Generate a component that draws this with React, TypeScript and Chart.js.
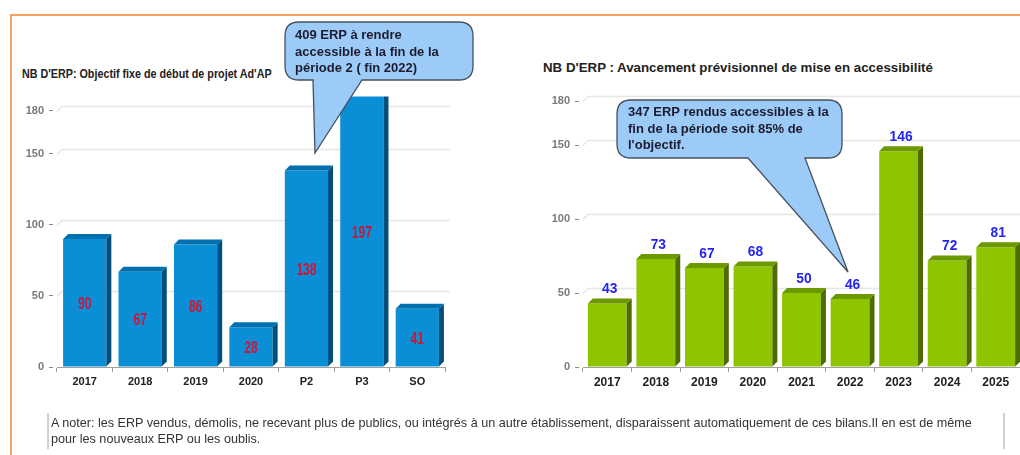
import React, { useEffect, useRef } from 'react';
import { Chart, registerables } from 'chart.js';

Chart.register(...registerables);

// ---------- data ----------
const leftCategories = ['2017', '2018', '2019', '2020', 'P2', 'P3', 'SO'];
const leftValues = [90, 67, 86, 28, 138, 197, 41];
const leftTicks = [0, 50, 100, 150, 180];

const rightCategories = ['2017', '2018', '2019', '2020', '2021', '2022', '2023', '2024', '2025'];
const rightValues = [43, 73, 67, 68, 50, 46, 146, 72, 81];
const rightTicks = [0, 50, 100, 150, 180];

const leftTitle = "NB D'ERP: Objectif fixe de début de projet Ad'AP";
const rightTitle = "NB D'ERP : Avancement prévisionnel de mise en accessibilité";
const bubble1Lines = ['409 ERP à rendre', 'accessible à la fin de la', 'période 2 ( fin 2022)'];
const bubble2Lines = ['347 ERP rendus accessibles à la', 'fin de la période soit 85% de', "l'objectif."];
const noteLines = [
  "A noter: les ERP vendus, démolis, ne recevant plus de publics, ou intégrés à un autre établissement, disparaissent automatiquement de ces bilans.Il en est de même",
  'pour les nouveaux ERP ou les oublis.',
];

const FONT = '"Liberation Sans", Arial, sans-serif';

type Cfg = {
  depth: number;
  front: string;
  top: string;
  side: string;
  grid: string;
  labelMode: 'inside' | 'above';
  labelColor: string;
  labelFont: string;
  labelScaleX: number;
  values: number[];
};

function make3DPlugin(cfg: Cfg) {
  const d = cfg.depth;
  return {
    id: 'bar3d',
    beforeDatasetsDraw(chart: any) {
      const { ctx, chartArea: ca } = chart;
      const y = chart.scales.y;
      ctx.save();
      ctx.strokeStyle = cfg.grid;
      ctx.lineWidth = 1.5;
      y.ticks.forEach((t: any) => {
        if (t.value === 0) return;
        const py = Math.round(y.getPixelForValue(t.value)) + 0.5;
        ctx.beginPath();
        ctx.moveTo(ca.left, py);
        ctx.lineTo(ca.left + d, py - d);
        ctx.lineTo(ca.right + d, py - d);
        ctx.stroke();
      });
      ctx.restore();
    },
    afterDatasetsDraw(chart: any) {
      const { ctx, chartArea: ca } = chart;
      const meta = chart.getDatasetMeta(0);
      ctx.save();
      ctx.beginPath();
      ctx.rect(ca.left, ca.top, ca.right - ca.left + d + 2, ca.bottom - ca.top);
      ctx.clip();
      meta.data.forEach((bar: any) => {
        const { x, y, base, width } = bar.getProps(['x', 'y', 'base', 'width'], true);
        const x0 = x - width / 2;
        const x1 = x + width / 2;
        ctx.fillStyle = cfg.side;
        ctx.beginPath();
        ctx.moveTo(x1, y);
        ctx.lineTo(x1 + d, y - d);
        ctx.lineTo(x1 + d, base - d);
        ctx.lineTo(x1, base);
        ctx.closePath();
        ctx.fill();
        ctx.fillStyle = cfg.top;
        ctx.beginPath();
        ctx.moveTo(x0, y);
        ctx.lineTo(x0 + d, y - d);
        ctx.lineTo(x1 + d, y - d);
        ctx.lineTo(x1, y);
        ctx.closePath();
        ctx.fill();
      });
      ctx.restore();

      meta.data.forEach((bar: any, i: number) => {
        const { x, y, base } = bar.getProps(['x', 'y', 'base'], true);
        const txt = String(cfg.values[i]);
        let lx: number;
        let ly: number;
        ctx.save();
        ctx.fillStyle = cfg.labelColor;
        ctx.font = cfg.labelFont;
        ctx.textAlign = 'center';
        if (cfg.labelMode === 'inside') {
          const top = Math.max(y, ca.top);
          ctx.textBaseline = 'middle';
          lx = x;
          ly = (top + base) / 2 + 2;
        } else {
          ctx.textBaseline = 'bottom';
          lx = x + d / 2;
          ly = y - d - 2;
        }
        ctx.translate(lx, ly);
        ctx.scale(cfg.labelScaleX, 1);
        ctx.fillText(txt, 0, 0);
        ctx.restore();
      });
    },
  };
}

function buildChart(
  canvas: HTMLCanvasElement,
  categories: string[],
  values: number[],
  ticks: number[],
  max: number,
  barPct: number,
  yWidth: number,
  padding: any,
  xFontSize: number,
  cfg: Cfg
) {
  return new Chart(canvas, {
    type: 'bar',
    data: {
      labels: categories,
      datasets: [
        {
          data: values,
          backgroundColor: cfg.front,
          borderWidth: 0,
          barPercentage: barPct,
          categoryPercentage: 1,
        },
      ],
    },
    options: {
      animation: false,
      responsive: false,
      maintainAspectRatio: false,
      layout: { padding },
      plugins: { legend: { display: false }, tooltip: { enabled: false }, title: { display: false } },
      scales: {
        x: {
          grid: { drawOnChartArea: false, drawTicks: true, tickLength: 5, offset: true, color: '#9a9a9a' },
          border: { display: true, color: '#a0a0a0' },
          ticks: { font: { family: FONT, size: xFontSize, weight: 'bold' }, color: '#222', padding: 3 },
          afterFit: (s: any) => {
            s.height = 28;
          },
        },
        y: {
          min: 0,
          max,
          afterBuildTicks: (s: any) => {
            s.ticks = ticks.map((v) => ({ value: v }));
          },
          grid: {
            drawOnChartArea: false,
            drawTicks: true,
            tickLength: 8,
            tickColor: '#888',
            tickBorderDash: [4, 4],
          },
          border: { display: false },
          ticks: { font: { family: FONT, size: 11, weight: 'bold' }, color: '#7a7a7a', padding: 5 },
          afterFit: (s: any) => {
            s.width = yWidth;
          },
        },
      },
    } as any,
    plugins: [make3DPlugin(cfg)],
  });
}

function Bubble({ x0, y0, x1, y1, tl, tr, tipX, tipY, lines, tx, ty }: any) {
  const r = 14;
  const path = [
    `M ${x0 + r} ${y0}`,
    `L ${x1 - r} ${y0}`,
    `Q ${x1} ${y0} ${x1} ${y0 + r}`,
    `L ${x1} ${y1 - r}`,
    `Q ${x1} ${y1} ${x1 - r} ${y1}`,
    `L ${tr} ${y1}`,
    `L ${tipX} ${tipY}`,
    `L ${tl} ${y1}`,
    `L ${x0 + r} ${y1}`,
    `Q ${x0} ${y1} ${x0} ${y1 - r}`,
    `L ${x0} ${y0 + r}`,
    `Q ${x0} ${y0} ${x0 + r} ${y0}`,
    'Z',
  ].join(' ');
  return (
    <g>
      <path d={path} fill="#9dcbf7" stroke="#44505c" strokeWidth={1.3} />
      {lines.map((l: string, i: number) => (
        <text
          key={i}
          x={tx}
          y={ty + i * 16.5}
          fontFamily={FONT}
          fontWeight="bold"
          fontSize={13}
          fill="#1c1c30"
        >
          {l}
        </text>
      ))}
    </g>
  );
}

export default function App() {
  const leftRef = useRef<HTMLCanvasElement>(null);
  const rightRef = useRef<HTMLCanvasElement>(null);

  useEffect(() => {
    const c1 = buildChart(
      leftRef.current!,
      leftCategories,
      leftValues,
      leftTicks,
      190,
      0.78,
      47,
      { top: 9, right: 15, left: 0, bottom: 0 },
      11,
      {
        depth: 5,
        front: '#0a8fd6',
        top: '#0070ae',
        side: '#004f7c',
        grid: '#e6e6e6',
        labelMode: 'inside',
        labelColor: '#cc1638',
        labelFont: `bold 16px ${FONT}`,
        labelScaleX: 0.75,
        values: leftValues,
      }
    );
    const c2 = buildChart(
      rightRef.current!,
      rightCategories,
      rightValues,
      rightTicks,
      180,
      0.8,
      48,
      { top: 16, right: 0, left: 0, bottom: 0 },
      12,
      {
        depth: 5,
        front: '#8fc400',
        top: '#6c9800',
        side: '#4c6c00',
        grid: '#e6e6e6',
        labelMode: 'above',
        labelColor: '#2424f0',
        labelFont: `bold 15px ${FONT}`,
        labelScaleX: 0.92,
        values: rightValues,
      }
    );
    return () => {
      c1.destroy();
      c2.destroy();
    };
  }, []);

  return (
    <div
      style={{
        position: 'absolute',
        left: 0,
        top: 0,
        width: 1020,
        height: 455,
        background: '#fff',
        overflow: 'hidden',
        fontFamily: FONT,
      }}
    >
      {/* orange frame */}
      <div style={{ position: 'absolute', left: 10, top: 14, width: 1010, height: 2, background: '#f6a25e' }} />
      <div style={{ position: 'absolute', left: 10, top: 14, width: 2, height: 441, background: '#f6a25e' }} />

      <div
        style={{
          position: 'absolute',
          left: 22,
          top: 67,
          fontFamily: FONT,
          fontWeight: 'bold',
          fontSize: 12.5,
          color: '#222',
          whiteSpace: 'nowrap',
          transform: 'scaleX(0.86)',
          transformOrigin: 'left top',
        }}
      >
        {leftTitle}
      </div>
      <div
        style={{
          position: 'absolute',
          left: 543,
          top: 60,
          fontFamily: FONT,
          fontWeight: 'bold',
          fontSize: 13.3,
          color: '#222',
          whiteSpace: 'nowrap',
        }}
      >
        {rightTitle}
      </div>

      <canvas
        ref={leftRef}
        width={450}
        height={310}
        style={{ position: 'absolute', left: 10, top: 85, width: 450, height: 310 }}
      />
      <canvas
        ref={rightRef}
        width={485}
        height={310}
        style={{ position: 'absolute', left: 535, top: 85, width: 485, height: 310 }}
      />

      <svg
        width={1020}
        height={455}
        style={{ position: 'absolute', left: 0, top: 0, pointerEvents: 'none' }}
      >
        <Bubble x0={285} y0={22} x1={473} y1={80} tl={313} tr={362} tipX={315} tipY={153} lines={bubble1Lines} tx={295} ty={39} />
        <Bubble x0={617} y0={100} x1={842} y1={158} tl={748} tr={805} tipX={848} tipY={272} lines={bubble2Lines} tx={628} ty={116} />
      </svg>

      {/* note */}
      <div
        style={{
          position: 'absolute',
          left: 47,
          top: 413,
          width: 954,
          height: 36,
          borderLeft: '2px solid #d0d0d0',
          borderRight: '2px solid #d0d0d0',
        }}
      />
      <div
        style={{
          position: 'absolute',
          left: 51,
          top: 415,
          fontFamily: FONT,
          fontSize: 13,
          lineHeight: '16px',
          color: '#333',
          whiteSpace: 'nowrap',
          transform: 'scaleX(0.97)',
          transformOrigin: 'left top',
        }}
      >
        {noteLines.map((l, i) => (
          <div key={i}>{l}</div>
        ))}
      </div>
    </div>
  );
}
